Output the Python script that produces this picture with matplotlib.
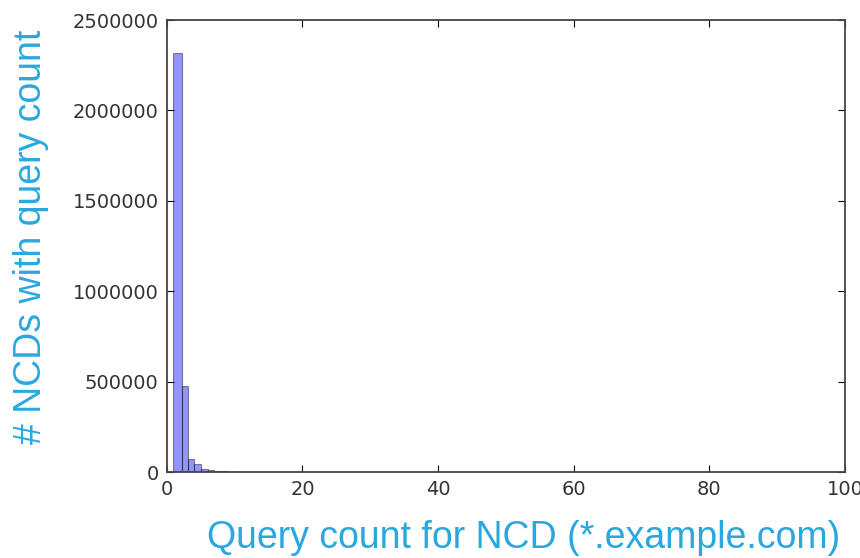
import matplotlib
matplotlib.use('Agg')
import matplotlib.pyplot as plt
import numpy as np

# histogram bin edges (query count) and NCD counts per bin
bin_edges = [0.85, 2.2, 3.1, 4.05, 5.0, 6.0, 7.0, 8.0, 9.0, 10.0, 11.0]
ncd_counts = [2320000, 475000, 75000, 45000, 18000, 10000, 6000, 4000, 3000, 2000]

xticks = [0, 20, 40, 60, 80, 100]
yticks = [0, 500000, 1000000, 1500000, 2000000, 2500000]

label_color = '#29a8df'

fig = plt.figure(figsize=(8.6, 5.58), dpi=100)
ax = fig.add_axes([0.194, 0.154, 0.7886, 0.81])

# draw as a histogram from the bin counts
ax.hist(bin_edges[:-1], bins=bin_edges, weights=ncd_counts,
        color='blue', alpha=0.42, edgecolor='black', linewidth=0.8)

ax.set_xlim(0, 100)
ax.set_ylim(0, 2500000)
ax.set_xticks(xticks)
ax.set_yticks(yticks)
ax.set_xticklabels([str(t) for t in xticks])
ax.set_yticklabels([str(t) for t in yticks])
ax.tick_params(direction='in', top=True, right=True, labelsize=14,
               labelcolor='#333333', length=5, pad=6)
for s in ax.spines.values():
    s.set_linewidth(1.3)
    s.set_color('#444444')

fig.text(0.036, 0.575, '# NCDs with query count', rotation=90, ha='center', va='center',
         color=label_color, fontsize=27, family='Liberation Sans')
fig.text(0.609, 0.036, 'Query count for NCD (*.example.com)', ha='center', va='center',
         color=label_color, fontsize=27, family='Liberation Sans')

fig.savefig('out.png', dpi=100)
